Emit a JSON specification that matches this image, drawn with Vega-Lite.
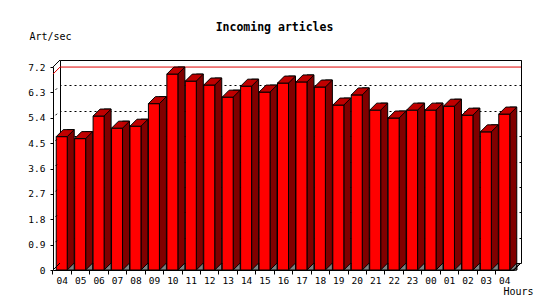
{
  "$schema": "https://vega.github.io/schema/vega-lite/v6.json",
  "autosize": "none",
  "width": 461,
  "height": 203,
  "padding": {"left": 60, "top": 60, "right": 29, "bottom": 37},
  "background": "white",
  "title": {
    "text": "Incoming articles",
    "font": "DejaVu Sans Mono",
    "fontSize": 11.5,
    "fontWeight": "bold",
    "color": "black",
    "anchor": "middle",
    "frame": "group",
    "dx": -16,
    "offset": -9
  },
  "config": {
    "view": {"stroke": "black", "strokeWidth": 1, "fill": "white"},
    "axis": {
      "labelFont": "DejaVu Sans Mono",
      "labelFontSize": 9.5,
      "labelColor": "black",
      "domainColor": "black",
      "tickColor": "black",
      "titleFont": "DejaVu Sans Mono",
      "titleFontWeight": "normal",
      "titleFontSize": 10,
      "titleColor": "black"
    }
  },
  "data": {
    "values": [
      {"hour": "04", "v": 4.73},
      {"hour": "05", "v": 4.66},
      {"hour": "06", "v": 5.46},
      {"hour": "07", "v": 5.03},
      {"hour": "08", "v": 5.10},
      {"hour": "09", "v": 5.90},
      {"hour": "10", "v": 6.95},
      {"hour": "11", "v": 6.70},
      {"hour": "12", "v": 6.56},
      {"hour": "13", "v": 6.13},
      {"hour": "14", "v": 6.52},
      {"hour": "15", "v": 6.31},
      {"hour": "16", "v": 6.63},
      {"hour": "17", "v": 6.67},
      {"hour": "18", "v": 6.49},
      {"hour": "19", "v": 5.85},
      {"hour": "20", "v": 6.21},
      {"hour": "21", "v": 5.67},
      {"hour": "22", "v": 5.39},
      {"hour": "23", "v": 5.67},
      {"hour": "00", "v": 5.67},
      {"hour": "01", "v": 5.81},
      {"hour": "02", "v": 5.49},
      {"hour": "03", "v": 4.90},
      {"hour": "04 ", "v": 5.53}
    ]
  },
  "resolve": {"axis": {"y": "independent"}},
  "layer": [
    {
      "mark": {"type": "rule", "color": "#e00000", "strokeWidth": 1},
      "encoding": {
        "y": {
          "aggregate": "max", "field": "v", "type": "quantitative",
          "scale": {"domain": [0, 7.2], "nice": false, "zero": true},
          "axis": {
            "orient": "right", "grid": true, "gridDash": [2, 3], "gridColor": "black", "gridOpacity": 1,
            "labels": false, "ticks": false, "domain": false, "title": null,
            "values": [0.9, 1.8, 2.7, 3.6, 4.5, 5.4, 6.3, 7.2]
          }
        }
      }
    },
    {
      "mark": {"type": "bar", "width": 7, "xOffset": 1.5, "yOffset": 0, "y2Offset": 7, "fill": "#800000", "stroke": "black", "strokeWidth": 1},
      "encoding": {
        "x": {
          "field": "hour", "type": "ordinal", "sort": null,
          "scale": {"type": "band", "paddingInner": 0, "paddingOuter": 0},
          "axis": {
            "orient": "bottom", "translate": -6.5, "offset": 14, "bandPosition": 0,
            "labelAngle": 0, "tickSize": 4, "labelPadding": 1,
            "labelExpr": "trim(datum.label)", "labelOverlap": false,
            "title": "Hours", "titleX": 450, "titleY": 21.5, "titleAlign": "left", "titleBaseline": "middle", "titleAngle": 0
          }
        },
        "y": {
          "field": "v", "type": "quantitative",
          "axis": {
            "orient": "left", "translate": 7.5, "offset": 14, "grid": false,
            "values": [0, 0.9, 1.8, 2.7, 3.6, 4.5, 5.4, 6.3, 7.2], "format": ".1~f",
            "tickSize": 3, "labelPadding": 5,
            "title": "Art/sec", "titleAngle": 0, "titleAlign": "left", "titleBaseline": "middle", "titleX": -24, "titleY": -30.5
          }
        },
        "y2": {"datum": 0}
      }
    },
    {
      "mark": {"type": "bar", "width": 11, "xOffset": -7.5, "yOffset": 7, "y2Offset": 7, "fill": "#ff0000", "stroke": "black", "strokeWidth": 1},
      "encoding": {
        "x": {"field": "hour", "type": "ordinal", "sort": null},
        "y": {"field": "v", "type": "quantitative", "axis": null},
        "y2": {"datum": 0}
      }
    },
    {
      "mark": {"type": "point", "shape": "M -13 7 L -2 7 L 5 0 L -6 0 Z", "size": 4, "filled": true, "fill": "#c00000", "stroke": "black", "strokeWidth": 1, "opacity": 1},
      "encoding": {
        "x": {"field": "hour", "type": "ordinal", "sort": null},
        "y": {"field": "v", "type": "quantitative", "axis": null}
      }
    },
    {
      "mark": {"type": "point", "shape": "M -2 7 L 5 0 L 5 7 Z", "size": 4, "filled": true, "fill": "#808080", "stroke": "black", "strokeWidth": 1, "opacity": 1},
      "encoding": {
        "x": {"field": "hour", "type": "ordinal", "sort": null},
        "y": {"datum": 0, "type": "quantitative", "axis": null}
      }
    },
    {
      "mark": {"type": "point", "shape": "M 9.2 0 L 2.2 7", "size": 4, "filled": false, "stroke": "black", "strokeWidth": 1, "opacity": 1},
      "encoding": {
        "x": {"datum": "04 ", "type": "ordinal"},
        "y": {"datum": 0, "type": "quantitative", "axis": null}
      }
    },
    {
      "mark": {"type": "point", "shape": "M -9.2 0 L -16.2 7", "size": 4, "filled": false, "stroke": "#e00000", "strokeWidth": 1, "opacity": 1},
      "encoding": {
        "x": {"datum": "04", "type": "ordinal"},
        "y": {"aggregate": "max", "field": "v", "type": "quantitative", "axis": null}
      }
    },
    {
      "data": {"values": [{"t": 0.9}, {"t": 1.8}, {"t": 2.7}, {"t": 3.6}, {"t": 4.5}, {"t": 5.4}, {"t": 6.3}]},
      "mark": {"type": "point", "shape": "M -12.2 3 L -13.7 4.5", "size": 4, "filled": false, "stroke": "black", "strokeWidth": 1, "opacity": 1},
      "encoding": {
        "x": {"datum": "04", "type": "ordinal"},
        "y": {"field": "t", "type": "quantitative", "axis": null}
      }
    },
    {
      "data": {"values": [{"t": 0}, {"t": 7.2}]},
      "mark": {"type": "point", "shape": "M -9.2 0 L -16.2 7", "size": 4, "filled": false, "stroke": "black", "strokeWidth": 1, "opacity": 1},
      "encoding": {
        "x": {"datum": "04", "type": "ordinal"},
        "y": {"field": "t", "type": "quantitative", "axis": null}
      }
    }
  ]
}
